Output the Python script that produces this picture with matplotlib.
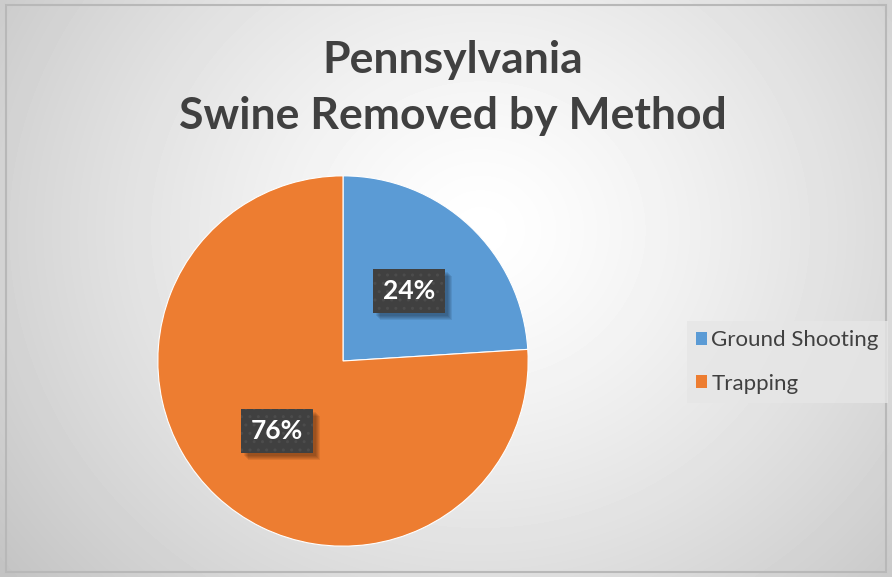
import matplotlib.pyplot as plt
import numpy as np
from matplotlib import transforms
from matplotlib.patches import Patch, Rectangle

methods = ['Ground Shooting', 'Trapping']
shares = [24, 76]
colors = ['#5B9BD5', '#ED7D31']
title = 'Pennsylvania\nSwine Removed by Method'

W, H = 892, 577
fig = plt.figure(figsize=(W / 100, H / 100), dpi=100)

# radial gradient background
bg = fig.add_axes([0, 0, 1, 1])
yy, xx = np.mgrid[0:H, 0:W]
r = np.sqrt(((xx - 480) / 620.0) ** 2 + ((yy - 230) / 560.0) ** 2)
shade = 1.0 - 0.24 * np.clip(r, 0, 1) ** 1.3
bg.imshow(shade, cmap='gray', vmin=0, vmax=1, extent=[0, W, H, 0], aspect='auto')
bg.add_patch(Rectangle((6, 5), W - 12, H - 10, fill=False, edgecolor='#B8B8B8', linewidth=1.5))
bg.set_xlim(0, W)
bg.set_ylim(H, 0)
bg.axis('off')

fig.text(453 / W, 1 - 88 / H, title, ha='center', va='center', fontsize=32,
         fontweight='bold', color='#404040', family=['Lato', 'DejaVu Sans'],
         linespacing=1.5)

ax = fig.add_axes([(343 - 187) / W, (H - 361 - 187) / H, 374 / W, 374 / H])
wedges, texts, autotexts = ax.pie(
    shares, colors=colors, startangle=90, counterclock=False,
    autopct='%d%%', pctdistance=0.52, radius=1,
    wedgeprops=dict(edgecolor='white', linewidth=0.8))
ax.set_xlim(-1.01, 1.01)
ax.set_ylim(-1.01, 1.01)
ax.set_aspect('equal')

plt.rcParams['hatch.color'] = '#4C4C4C'
plt.rcParams['hatch.linewidth'] = 1.0
for t in autotexts:
    t.set_zorder(5)
    t.set_color('white')
    t.set_fontsize(19)
    t.set_fontweight('bold')
    t.set_family(['Lato', 'DejaVu Sans'])
    t.set_bbox(dict(boxstyle='square,pad=0.38', linewidth=0,
                    facecolor='#404040', edgecolor='#4C4C4C', hatch='..'))

# soft drop shadow under each label box
fig.canvas.draw()
for t in autotexts:
    ext = t.get_bbox_patch().get_window_extent()
    for o in (7, 6, 5, 4, 3):
        ax.add_patch(Rectangle((ext.x0 + o, ext.y0 - o), ext.width, ext.height,
                               transform=transforms.IdentityTransform(),
                               facecolor='black', alpha=0.08, edgecolor='none',
                               zorder=4))

handles = [Patch(facecolor=c, edgecolor='none') for c in colors]
leg = fig.legend(handles, methods, loc='center left',
                 bbox_to_anchor=(687 / W, 1 - 362 / H),
                 frameon=True, fancybox=False, handlelength=0.5, handleheight=0.5,
                 handletextpad=0.2, labelspacing=1.05, borderpad=0.4,
                 borderaxespad=0,
                 prop={'family': ['Lato', 'DejaVu Sans'], 'size': 16})
leg.get_frame().set_facecolor('#E6E6E6')
leg.get_frame().set_alpha(0.8)
leg.get_frame().set_edgecolor('none')
for txt in leg.get_texts():
    txt.set_color('#404040')

fig.savefig('out.png', dpi=100)
